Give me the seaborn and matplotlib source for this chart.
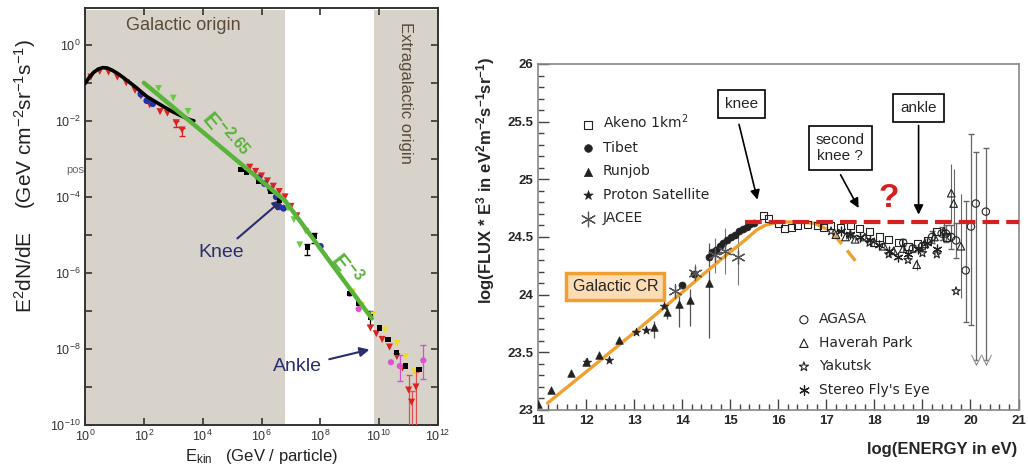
import numpy as np
import matplotlib
matplotlib.use("Agg")
import matplotlib.pyplot as plt
from matplotlib.ticker import FixedLocator, MultipleLocator, NullFormatter, FixedFormatter
import seaborn as sns

# ---------------- left panel (values are log10) ----------------
blk_logE = [0.0, 0.15, 0.3, 0.45, 0.6, 0.75, 0.9, 1.1, 1.3, 1.5, 1.7, 1.9, 2.1, 2.4, 2.7, 3.0, 3.3, 3.6, 3.7]
blk_logF = [-1.02, -0.85, -0.72, -0.64, -0.6, -0.61, -0.66, -0.75, -0.86, -0.98, -1.1, -1.23, -1.36, -1.5, -1.64, -1.77, -1.88, -1.98, -2.0]
blkpts_logE = [5.3, 5.5, 5.9, 6.3, 6.6, 7.55, 7.8, 9.0, 9.3, 9.7, 10.0, 10.3, 10.6, 10.9, 11.35]
blkpts_logF = [-3.28, -3.36, -3.6, -3.85, -4.1, -5.34, -5.05, -6.55, -6.8, -7.16, -7.45, -7.75, -8.1, -8.45, -8.55]
red_logE = [0.2, 0.5, 0.8, 1.1, 1.4, 1.7, 1.9, 2.2, 2.55, 2.8, 3.1, 3.3,
            5.6, 5.8, 6.0, 6.2, 6.4, 6.6, 6.8, 7.0, 7.2,
            9.7, 9.9, 10.1, 10.35, 10.6, 10.8, 11.0, 11.1, 11.25]
red_logF = [-0.85, -0.7, -0.72, -0.85, -1.0, -1.2, -1.35, -1.58, -1.76, -1.8, -2.05, -2.24,
            -3.22, -3.33, -3.45, -3.58, -3.72, -3.86, -4.0, -4.25, -4.5,
            -7.45, -7.6, -7.75, -7.95, -8.2, -8.5, -9.08, -9.4, -9.0]
blue_logE = [1.9, 2.1, 2.3, 5.9, 6.1, 6.3, 6.5, 6.6, 6.75, 8.0]
blue_logF = [-1.3, -1.47, -1.55, -3.5, -3.65, -3.8, -4.0, -4.26, -4.3, -5.3]
grn_logE = [2.5, 3.0, 3.5, 6.9, 7.1, 7.3, 7.5]
grn_logF = [-1.15, -1.4, -1.75, -4.3, -4.6, -5.26, -4.9]
yel_logE = [9.1, 9.4, 9.8, 10.2, 10.6, 10.9, 11.2]
yel_logF = [-6.5, -6.85, -7.1, -7.5, -7.85, -8.2, -8.6]
mag_logE = [9.0, 9.3, 10.4, 10.7, 11.5]
mag_logF = [-6.55, -6.95, -8.35, -8.45, -8.3]
# error bars (dex below / above)
err_logE = [3.1, 3.3, 7.55, 7.8, 9.7, 11.0, 11.1, 11.25, 11.5, 10.7]
err_logF = [-2.05, -2.24, -5.34, -5.05, -7.16, -9.08, -9.4, -9.0, -8.3, -8.45]
err_lo = [0.1, 0.15, 0.2, 0.15, 0.2, 1.0, 0.8, 1.1, 0.5, 0.4]
err_hi = [0.05, 0.05, 0.1, 0.1, 0.15, 0.4, 0.3, 0.4, 0.4, 0.3]
err_col = ["#d42020", "#d42020", "black", "black", "black", "#e05050", "#e05050", "#e05050", "#d050d0", "#d050d0"]
# power laws
pl1_logE = [2.0, 6.8]
pl1_logF = [-1.0, -4.1]
pl2_logE = [6.8, 9.75]
pl2_logF = [-4.1, -7.2]

# ---------------- right panel ----------------
akeno_x = [15.7, 15.8, 16.0, 16.13, 16.27, 16.4, 16.6, 16.81, 16.95, 17.08, 17.3, 17.5, 17.7, 17.9, 18.1, 18.3, 18.5, 18.7, 18.9, 19.1, 19.3, 19.5]
akeno_y = [24.69, 24.66, 24.62, 24.57, 24.58, 24.6, 24.61, 24.6, 24.58, 24.6, 24.58, 24.6, 24.57, 24.55, 24.5, 24.48, 24.45, 24.42, 24.44, 24.47, 24.55, 24.5]
tibet_x = [13.99, 14.25, 14.55, 14.62, 14.7, 14.78, 14.86, 14.94, 15.02, 15.1, 15.18, 15.26, 15.34, 15.42, 15.5]
tibet_y = [24.08, 24.18, 24.33, 24.37, 24.39, 24.42, 24.45, 24.47, 24.5, 24.52, 24.55, 24.57, 24.59, 24.61, 24.62]
runjob_x = [11.0, 11.28, 11.69, 12.0, 12.28, 12.69, 13.41, 13.69, 13.93, 14.17, 14.55]
runjob_y = [23.05, 23.17, 23.32, 23.42, 23.48, 23.61, 23.72, 23.85, 23.92, 23.95, 24.1]
runjob_lo = [0, 0, 0, 0.03, 0, 0, 0.1, 0.06, 0.2, 0.22, 0.48]
runjob_hi = [0, 0, 0, 0.03, 0, 0, 0.05, 0.05, 0.1, 0.1, 0.35]
proton_x = [12.02, 12.48, 13.03, 13.24, 13.62]
proton_y = [23.42, 23.43, 23.68, 23.69, 23.9]
jacee_x = [13.86, 14.27, 14.68, 14.9, 15.16]
jacee_y = [24.03, 24.19, 24.34, 24.38, 24.33]
jacee_err = [0.05, 0.08, 0.15, 0.2, 0.25]
haverah_x = [17.2, 17.4, 17.6, 17.8, 18.0, 18.2, 18.4, 18.6, 18.88, 19.05, 19.25, 19.45, 19.6, 19.65, 19.8]
haverah_y = [24.52, 24.5, 24.48, 24.5, 24.45, 24.42, 24.38, 24.4, 24.26, 24.44, 24.5, 24.55, 24.88, 24.79, 24.42]
haverah_err = [0.02, 0.02, 0.02, 0.03, 0.03, 0.03, 0.04, 0.04, 0.05, 0.05, 0.06, 0.08, 0.25, 0.3, 0.45]
agasa_x = [18.6, 18.8, 19.0, 19.2, 19.4, 19.49, 19.6, 19.7, 19.9, 20.01, 20.11, 20.32]
agasa_y = [24.45, 24.4, 24.42, 24.5, 24.53, 24.53, 24.5, 24.47, 24.21, 24.59, 24.79, 24.72]
agasa_lo = [0.03, 0.03, 0.04, 0.05, 0.06, 0.07, 0.1, 0.15, 0.45, 0.85, 1.36, 1.29]
agasa_hi = [0.03, 0.03, 0.04, 0.05, 0.06, 0.07, 0.1, 0.15, 0.6, 0.8, 0.45, 0.55]
yakutsk_x = [17.1, 17.5, 17.9, 18.3, 18.7, 19.0, 19.3, 19.7]
yakutsk_y = [24.55, 24.52, 24.45, 24.35, 24.3, 24.36, 24.35, 24.03]
flyseye_x = [17.3, 17.5, 17.7, 17.9, 18.1, 18.3, 18.5, 18.7, 18.9, 19.1, 19.3]
flyseye_y = [24.55, 24.53, 24.5, 24.47, 24.43, 24.38, 24.33, 24.35, 24.4, 24.45, 24.4]
uplim_x = [20.11, 20.32]
uplim_y = [23.43, 23.43]
gal_x = [11.2, 12.0, 13.0, 14.0, 14.82, 15.3, 15.55, 15.72, 16.0, 16.4, 16.75]
gal_y = [23.06, 23.33, 23.67, 24.02, 24.31, 24.47, 24.56, 24.6, 24.63, 24.63, 24.62]
galdash_x = [16.75, 17.0, 17.2, 17.4, 17.65]
galdash_y = [24.62, 24.57, 24.5, 24.4, 24.27]
flat_x = [15.3, 21.0]
flat_y = [24.63, 24.63]

sns.set_style("ticks")
plt.rcParams["font.family"] = ["Liberation Sans", "DejaVu Sans"]
plt.rcParams["mathtext.fontset"] = "custom"
plt.rcParams["mathtext.rm"] = "Liberation Sans"
plt.rcParams["mathtext.it"] = "Liberation Sans:italic"
plt.rcParams["mathtext.bf"] = "Liberation Sans:bold"
plt.rcParams["mathtext.default"] = "regular"

fig = plt.figure(figsize=(10.28, 4.66), dpi=100)
axL = fig.add_axes([0.0827, 0.088, 0.3434, 0.895])
axR = fig.add_axes([0.5233, 0.1202, 0.4675, 0.7425])

# ---------- left ----------
p = lambda v: 10.0 ** np.asarray(v)
axL.set_xscale("log")
axL.set_yscale("log")
shade = "#d8d3ca"
axL.axvspan(1, p(6.8), ymax=0.995, color=shade, lw=0, zorder=0)
axL.axvspan(p(9.83), p(11.98), ymax=0.995, color=shade, lw=0, zorder=0)

for ex, ey, lo, hi, c in zip(err_logE, err_logF, err_lo, err_hi, err_col):
    axL.errorbar([p(ex)], [p(ey)], yerr=[[p(ey) - p(ey - lo)], [p(ey + hi) - p(ey)]],
                 fmt="none", ecolor=c, elinewidth=0.9, capsize=2.5, zorder=3)

sns.scatterplot(x=p(red_logE), y=p(red_logF), color="#dd2222", marker="v", s=26, edgecolor="none", ax=axL, zorder=3)
sns.scatterplot(x=p(blue_logE), y=p(blue_logF), color="#2233aa", marker="o", s=24, edgecolor="none", ax=axL, zorder=3)
sns.scatterplot(x=p(grn_logE), y=p(grn_logF), color="#66cc44", marker="v", s=24, edgecolor="none", ax=axL, zorder=3)
sns.scatterplot(x=p(yel_logE), y=p(yel_logF), color="#eedd22", marker="v", s=24, edgecolor="none", ax=axL, zorder=3)
sns.scatterplot(x=p(mag_logE), y=p(mag_logF), color="#dd55cc", marker="o", s=20, edgecolor="none", ax=axL, zorder=3)
sns.scatterplot(x=p(blkpts_logE), y=p(blkpts_logF), color="black", marker="s", s=14, edgecolor="none", ax=axL, zorder=4)
sns.lineplot(x=p(blk_logE), y=p(blk_logF), color="black", lw=2.6, ax=axL, zorder=4)
sns.lineplot(x=p(pl1_logE), y=p(pl1_logF), color="#5ab33a", lw=3.2, ax=axL, zorder=5)
sns.lineplot(x=p(pl2_logE), y=p(pl2_logF), color="#5ab33a", lw=3.2, ax=axL, zorder=5)

axL.set_xlim(1, 1e12)
axL.set_ylim(1e-10, p(0.97))
axL.xaxis.set_major_locator(FixedLocator(p(np.arange(0, 13, 2))))
axL.xaxis.set_minor_locator(FixedLocator([]))
axL.yaxis.set_major_locator(FixedLocator(p(np.arange(-10, 1, 2))))
axL.yaxis.set_minor_locator(FixedLocator(p(np.arange(-9, 1, 2))))
axL.yaxis.set_minor_formatter(NullFormatter())
axL.tick_params(which="both", direction="in", top=True, right=True, labelsize=9, labelcolor="#333333",
                color="#333333")
axL.tick_params(axis="x", pad=3)
axL.tick_params(axis="y", pad=3)
axL.tick_params(which="major", length=5, width=1.2)
axL.tick_params(which="minor", length=5, width=1.2)
for s in axL.spines.values():
    s.set_linewidth(1.4)
    s.set_color("#333333")
axL.set_xlabel("")
axL.set_ylabel("")

axL.text(p(3.35), p(0.5), "Galactic origin", color="#5a4a3a", fontsize=13, ha="center", va="center")
axL.text(p(10.9), p(-1.27), "Extragalactic origin", color="#5a4a3a", fontsize=12, ha="center", va="center", rotation=-90)
axL.text(p(4.75), p(-2.37), "E$^{-2.65}$", color="#5ab33a", fontsize=16, ha="center", va="center", rotation=-50, fontweight="bold")
axL.text(p(8.9), p(-5.87), "E$^{-3}$", color="#5ab33a", fontsize=16, ha="center", va="center", rotation=-52, fontweight="bold")
axL.text(0.95, p(-3.3), "pos", color="#666666", fontsize=8, ha="right", va="center", zorder=0)
axL.annotate("Knee", xy=(p(6.78), p(-4.03)), xytext=(p(4.64), p(-5.45)), color="#2a2d6e",
             fontsize=14, ha="center", va="center",
             arrowprops=dict(arrowstyle="-|>", color="#2a2d6e", lw=1.5, shrinkA=2, mutation_scale=14))
axL.annotate("Ankle", xy=(p(9.76), p(-8.0)), xytext=(p(7.22), p(-8.47)), color="#2a2d6e",
             fontsize=14, ha="center", va="center",
             arrowprops=dict(arrowstyle="-|>", color="#2a2d6e", lw=1.5, shrinkA=3, mutation_scale=14))
fig.text(0.024, 0.622, "E$^2$dN/dE    (GeV cm$^{-2}$sr$^{-1}$s$^{-1}$)", rotation=90, fontsize=15,
         ha="center", va="center", color="#222222")
fig.text(0.254, 0.021, "E$_{kin}$   (GeV / particle)", fontsize=12, ha="center", va="center", color="#222222")

# ---------- right ----------
ink = "#222222"
axR.errorbar(runjob_x, runjob_y, yerr=[runjob_lo, runjob_hi], fmt="none", ecolor="#555555", elinewidth=0.9, zorder=2)
axR.errorbar(jacee_x, jacee_y, yerr=jacee_err, fmt="none", ecolor="#777777", elinewidth=0.8, zorder=2)
axR.errorbar(haverah_x, haverah_y, yerr=haverah_err, fmt="none", ecolor="#666666", elinewidth=0.8, zorder=2)
axR.errorbar(agasa_x, agasa_y, yerr=[agasa_lo, agasa_hi], fmt="none", ecolor="#666666", elinewidth=0.9, capsize=2, zorder=2)

sns.lineplot(x=gal_x, y=gal_y, color="#f0a030", lw=2.4, sort=False, ax=axR, zorder=3)
sns.lineplot(x=galdash_x, y=galdash_y, color="#f0a030", lw=2.4, sort=False, ax=axR, zorder=3, linestyle=(0, (4, 2.5)))

sns.scatterplot(x=akeno_x, y=akeno_y, marker="s", s=26, facecolor="none", edgecolor=ink, linewidth=0.8, label="Akeno 1km$^2$", ax=axR, zorder=4)
sns.scatterplot(x=tibet_x, y=tibet_y, marker="o", s=26, color=ink, edgecolor=ink, label="Tibet", ax=axR, zorder=4)
sns.scatterplot(x=runjob_x, y=runjob_y, marker="^", s=30, color=ink, edgecolor=ink, label="Runjob", ax=axR, zorder=4)
sns.scatterplot(x=proton_x, y=proton_y, marker="*", s=40, color=ink, edgecolor=ink, label="Proton Satellite", ax=axR, zorder=4)
sns.scatterplot(x=jacee_x, y=jacee_y, marker=(6, 2, 0), s=90, color="#555555", linewidth=0.9, label="JACEE", ax=axR, zorder=4)
sns.scatterplot(x=agasa_x, y=agasa_y, marker="o", s=28, facecolor="none", edgecolor=ink, linewidth=0.8, label="AGASA", ax=axR, zorder=4)
sns.scatterplot(x=haverah_x, y=haverah_y, marker="^", s=30, facecolor="none", edgecolor=ink, linewidth=0.8, label="Haverah Park", ax=axR, zorder=4)
sns.scatterplot(x=yakutsk_x, y=yakutsk_y, marker="*", s=40, facecolor="none", edgecolor=ink, linewidth=0.8, label="Yakutsk", ax=axR, zorder=4)
sns.scatterplot(x=flyseye_x, y=flyseye_y, marker=(6, 2, 0), s=40, color=ink, linewidth=0.9, label="Stereo Fly's Eye", ax=axR, zorder=4)
sns.scatterplot(x=uplim_x, y=uplim_y, marker="$\\vee$", s=70, color="#666666", linewidth=0.3, ax=axR, zorder=4)

sns.lineplot(x=flat_x, y=flat_y, color="#d42020", lw=3.0, ax=axR, zorder=5, linestyle=(0, (4, 1.7)))

axR.set_xlim(11, 21)
axR.set_ylim(23, 26)
axR.xaxis.set_major_locator(MultipleLocator(1))
axR.xaxis.set_minor_locator(MultipleLocator(0.2))
axR.yaxis.set_major_locator(FixedLocator([23, 23.5, 24, 24.5, 25, 25.5, 26]))
axR.yaxis.set_major_formatter(FixedFormatter(["23", "23.5", "24", "24.5", "25", "25.5", "26"]))
axR.yaxis.set_minor_locator(MultipleLocator(0.1))
axR.tick_params(which="both", direction="in", labelsize=9.5, color="#444444")
axR.tick_params(which="major", length=8, width=1)
axR.tick_params(which="minor", length=4, width=1)
for lab in axR.get_xticklabels() + axR.get_yticklabels():
    lab.set_fontweight("bold")
for s in axR.spines.values():
    s.set_linewidth(1.2)
    s.set_color("#888888")
axR.set_xlabel("")
axR.set_ylabel("")

handles, labels = axR.get_legend_handles_labels()
leg1 = axR.legend(handles[:5], labels[:5], loc="upper left", bbox_to_anchor=(0.06, 0.895), frameon=False,
                  prop={"family": "DejaVu Sans", "size": 10}, handletextpad=0.5, labelspacing=0.68,
                  handlelength=1.2, markerscale=1.1)
axR.add_artist(leg1)
axR.legend(handles[5:9], labels[5:9], loc="upper left", bbox_to_anchor=(0.51, 0.318), frameon=False,
           prop={"family": "DejaVu Sans", "size": 10}, handletextpad=0.5, labelspacing=0.68,
           handlelength=1.2, markerscale=1.1)

box = dict(boxstyle="square,pad=0.45", fc="white", ec="black", lw=1.2)
axR.text(15.23, 25.65, "knee", fontsize=11, ha="center", va="center", bbox=box, zorder=6)
axR.text(17.29, 25.27, "second\nknee ?", fontsize=11, ha="center", va="center", bbox=box, zorder=6, linespacing=1.2)
axR.text(18.92, 25.62, "ankle", fontsize=11, ha="center", va="center", bbox=box, zorder=6)
axR.text(12.61, 24.07, "Galactic CR", fontsize=11.5, ha="center", va="center", zorder=6,
         bbox=dict(boxstyle="square,pad=0.4", fc="#fbdcb4", ec="#f0a030", lw=2.5))
arr = dict(arrowstyle="-|>", color="black", lw=1.2, mutation_scale=14)
axR.annotate("", xy=(15.58, 24.8), xytext=(15.17, 25.5), arrowprops=arr, zorder=6)
axR.annotate("", xy=(17.7, 24.73), xytext=(17.27, 25.06), arrowprops=arr, zorder=6)
axR.annotate("", xy=(18.92, 24.67), xytext=(18.92, 25.49), arrowprops=arr, zorder=6)
axR.text(18.3, 24.83, "?", color="#d42020", fontsize=24, fontweight="bold", ha="center", va="center", zorder=6)

fig.text(0.472, 0.614, "log(FLUX * E$^\\mathbf{3}$ in eV$^\\mathbf{2}$m$^\\mathbf{-2}$s$^\\mathbf{-1}$sr$^\\mathbf{-1}$)",
         rotation=90, fontsize=12, fontweight="bold", ha="center", va="center")
fig.text(0.99, 0.035, "log(ENERGY in eV)", fontsize=12, fontweight="bold", ha="right", va="center")

fig.savefig("out.png", dpi=100)
